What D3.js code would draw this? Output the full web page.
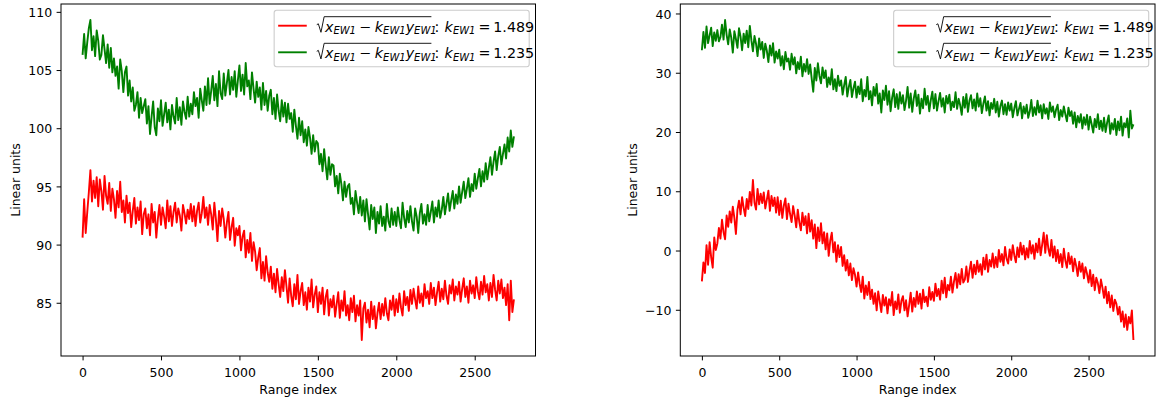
<!DOCTYPE html>
<html>
<head>
<meta charset="utf-8">
<script src="https://cdn.jsdelivr.net/npm/d3@7"></script>
<style>
  body { margin: 0; background: #fff; }
  svg text { font-family: "DejaVu Sans", sans-serif; fill: #000; }
</style>
</head>
<body>
<svg id="fig" width="1156" height="403"></svg>
<script>
// datos (una muestra cada STEP indices)
STEP = 10
ticksX = [0, 500, 1000, 1500, 2000, 2500]
ticksYleft = [85, 90, 95, 100, 105, 110]
ticksYright = [-10, 0, 10, 20, 30, 40]
kRed = '1.489'
kGreen = '1.235'

red1 = [
  90.6, 93.9, 91.0, 92.8, 94.5, 96.4, 93.7, 95.5, 94.0, 95.8,
  93.3, 95.6, 94.6, 93.0, 95.9, 94.2, 93.5, 95.3, 92.9, 94.8,
  93.9, 92.3, 94.6, 93.2, 95.4, 92.8, 93.8, 91.9, 94.2, 92.7,
  93.6, 91.5, 92.9, 94.0, 91.8, 93.2, 92.1, 93.7, 90.9, 92.6,
  93.1, 91.4, 92.6, 90.8, 93.5, 91.9, 92.8, 90.6, 92.2, 93.4,
  91.7, 93.2, 92.4, 91.4, 93.8, 92.0, 93.3, 91.6, 92.8, 93.6,
  91.9, 93.1, 92.5, 91.2, 93.4, 92.7, 91.8, 93.0, 92.2, 93.5,
  92.0, 93.3, 91.6, 92.9, 93.6, 91.9, 92.7, 94.1, 92.3, 93.2,
  91.7, 93.4, 92.6, 91.3, 93.6, 92.2, 90.3, 92.9, 91.6, 93.1,
  92.2, 90.6, 91.9, 92.8, 90.4, 91.5, 92.3, 89.9, 91.4, 90.8,
  91.6, 89.5, 90.7, 91.2, 88.9, 90.4, 89.3, 91.0, 88.6, 90.2,
  89.4, 87.8, 88.9, 89.7, 87.1, 88.5, 86.9, 89.0, 87.6, 86.8,
  88.1, 86.2, 87.5, 85.9, 87.9, 86.6, 85.5, 87.2, 86.0, 87.8,
  86.4, 85.0, 87.1, 85.6, 84.7, 86.6, 85.3, 87.4, 84.9, 86.0,
  86.7, 84.8, 85.9, 84.4, 86.3, 85.1, 87.0, 84.6, 85.7, 86.4,
  84.2, 85.9, 84.9, 86.3, 84.0, 85.5, 86.1, 83.9, 85.3, 84.6,
  85.6, 83.8, 84.9, 85.9, 83.7, 85.2, 84.3, 86.0, 83.9, 84.8,
  83.5, 85.4, 84.2, 85.6, 83.4, 84.8, 83.9, 85.2, 81.8, 84.5,
  85.0, 83.3, 84.4, 82.9, 85.1, 83.6, 84.7, 82.8, 84.1, 85.0,
  83.6, 84.9, 83.9, 85.4, 84.1, 83.5, 85.2, 84.4, 85.6, 83.9,
  85.3, 84.2, 85.8, 84.6, 83.9, 86.0, 84.8, 85.5, 84.3, 86.1,
  84.9, 86.2, 85.3, 84.5, 86.4, 85.0, 85.8, 84.7, 86.6, 85.4,
  86.0, 84.9, 86.7, 85.4, 86.3, 84.8, 85.9, 86.8, 85.1, 86.2,
  85.3, 86.9, 85.6, 84.9, 86.5, 85.8, 87.0, 85.2, 86.4, 85.7,
  86.8, 85.1, 86.2, 87.1, 85.5, 86.4, 85.0, 86.9, 85.8, 86.5,
  85.4, 87.2, 86.0, 85.3, 86.8, 85.7, 87.3, 85.9, 86.6, 85.2,
  86.7, 85.5, 87.4, 86.1, 85.2, 86.9, 85.8, 87.0, 85.4, 86.3,
  84.8, 86.6, 83.5, 86.9, 84.2, 85.3
]

green1 = [
  106.3, 108.1, 106.0, 107.4, 108.6, 109.3, 106.7, 107.9, 106.2, 108.4,
  107.5, 105.9, 106.3, 108.0, 106.8, 105.6, 107.2, 105.2, 106.9, 104.8,
  106.0, 104.5, 105.3, 103.4, 105.9, 104.9, 103.1, 104.8, 105.3, 102.8,
  104.1, 102.3, 103.5, 101.5, 102.0, 103.1, 100.9, 102.6, 101.3, 101.9,
  102.5, 100.4, 101.9, 99.5, 101.0, 102.3, 100.1, 99.4, 101.7, 100.6,
  102.4, 100.2, 101.2, 102.2, 100.5, 101.6, 99.9, 102.0, 101.0, 100.4,
  102.6, 100.7, 101.8, 100.3, 102.3, 101.4, 100.8, 102.7, 101.0, 102.1,
  101.2, 103.1, 101.9, 102.6, 100.9, 103.4, 102.4, 101.5, 103.6, 102.0,
  104.3, 102.1, 103.2, 104.5, 102.4, 103.8, 101.9, 104.9, 103.0, 102.5,
  104.7, 102.8, 103.9, 105.0, 102.9, 104.4, 103.3, 104.9, 102.7, 104.1,
  105.4, 103.2, 104.6, 102.9, 105.6, 103.6, 104.1, 102.5, 104.8, 103.4,
  102.2, 104.0, 102.7, 103.5, 101.6, 103.9, 102.0, 103.2, 101.5, 102.8,
  103.3, 101.2, 102.6, 100.8, 102.9, 101.5, 100.6, 102.4, 101.0, 102.2,
  100.5, 102.1, 100.8, 101.3, 99.7, 101.6, 100.2, 99.1, 100.9, 99.4,
  100.6, 98.8, 99.9, 98.5, 100.1, 99.2, 97.8, 99.4, 98.0, 98.9,
  98.7, 96.9, 97.8, 96.3, 98.2, 96.8, 95.6, 97.5, 96.0, 96.9,
  96.8, 95.0, 95.9, 94.4, 96.1, 95.2, 93.8, 95.4, 94.1, 95.0,
  95.2, 93.5, 94.0, 92.6, 94.6, 93.6, 92.7, 94.1, 92.5, 93.8,
  92.0, 93.9, 92.6, 91.3, 93.4, 92.2, 93.2, 91.0, 92.8, 91.8,
  93.3, 91.6, 92.4, 91.2, 93.5, 92.0, 91.5, 93.1, 91.7, 92.8,
  91.6, 93.2, 92.1, 91.4, 93.6, 92.3, 91.5, 92.9, 91.9, 93.3,
  92.0, 91.2, 93.1, 92.4, 91.0, 92.7, 93.5, 91.8, 92.6, 91.7,
  93.4, 92.0, 92.8, 93.7, 91.9, 93.2, 92.4, 93.8, 92.3, 93.0,
  94.1, 92.6, 93.5, 94.4, 92.9, 93.8, 94.6, 93.1, 94.3, 93.5,
  95.0, 93.6, 94.5, 95.4, 94.0, 94.8, 95.7, 94.1, 95.2, 94.6,
  96.1, 94.8, 95.7, 96.5, 95.0, 96.3, 95.4, 97.0, 95.6, 96.6,
  97.5, 96.0, 97.1, 98.0, 96.4, 97.6, 98.4, 96.9, 97.8, 98.6,
  97.4, 99.2, 98.0, 99.8, 98.4, 99.3
]

red2 = [
  -5.2, -2.0, -3.8, 0.9, -2.4, 1.4, -1.1, -2.9, 2.2, 0.1,
  1.2, 3.8, 2.0, 5.2, 3.1, 1.9, 5.9, 4.0, 6.6, 4.7,
  7.4, 5.5, 2.8, 6.9, 8.4, 6.1, 9.0, 7.2, 5.8, 8.7,
  7.0, 9.9, 7.6, 11.9, 8.1, 6.9, 10.4, 7.8, 9.6, 8.0,
  9.8, 7.1, 8.6, 10.1, 6.7, 9.2, 7.5, 8.9, 6.4, 9.0,
  6.0, 8.4, 5.5, 7.6, 8.8, 5.3, 7.9, 6.2, 4.8, 7.5,
  5.9, 3.9, 6.9, 4.8, 3.4, 6.4, 4.3, 5.8, 2.9, 6.2,
  3.2, 5.1, 2.0, 4.4, 0.4, 3.9, 1.6, 4.6, 1.2, 3.1,
  0.2, 2.9, -0.9, 1.7, 3.0, -0.3, 1.4, -1.9, 0.9, -1.1,
  0.6, -2.6, -0.8, -3.4, -1.6, -4.2, -2.2, -5.0, -3.0, -4.1,
  -6.1, -3.7, -5.6, -7.0, -4.4, -8.1, -5.9, -7.5, -5.3, -8.2,
  -6.6, -9.0, -7.2, -10.1, -6.9, -8.6, -10.4, -7.5, -9.3, -7.9,
  -10.6, -8.2, -9.3, -7.0, -10.9, -8.6, -9.9, -7.4, -10.5, -8.5,
  -7.7, -10.1, -8.4, -11.1, -9.2, -7.1, -10.3, -8.0, -9.5, -6.9,
  -9.0, -7.3, -9.8, -6.6, -8.7, -7.8, -9.4, -6.2, -8.3, -7.0,
  -8.5, -5.6, -7.7, -6.5, -8.3, -5.1, -7.2, -4.6, -7.9, -5.8,
  -6.7, -4.4, -7.1, -5.2, -3.8, -6.3, -4.0, -5.7, -3.1, -5.4,
  -4.9, -2.7, -5.3, -3.4, -1.9, -4.6, -2.4, -4.0, -1.7, -3.6,
  -2.3, -4.1, -1.2, -3.2, -0.7, -3.6, -1.6, -2.7, -0.5, -2.9,
  -1.1, -2.8, 0.1, -1.9, -0.6, -2.5, 0.6, -1.4, -2.2, 0.2,
  -1.6, 0.9, -0.8, -2.0, 0.5, -1.1, 1.3, -0.7, 0.8, -1.5,
  0.4, -1.2, 1.6, -0.5, 0.9, -1.4, 1.2, -0.3, 2.0, -0.8,
  1.0, 3.0, -0.4, 2.6, 0.3, -0.9, 1.8, -1.2, 0.7, -1.8,
  0.1, -2.1, -0.6, -2.8, 0.3, -1.7, -2.9, -0.4, -2.3, -1.0,
  -3.5, -1.4, -2.6, -4.3, -1.9, -3.6, -2.2, -4.7, -2.8, -3.9,
  -5.4, -3.3, -6.0, -4.1, -6.7, -4.6, -5.5, -7.2, -4.9, -6.3,
  -8.0, -6.1, -8.9, -7.0, -9.6, -7.6, -10.2, -8.3, -9.0, -10.8,
  -9.5, -12.0, -10.3, -12.9, -10.8, -13.4, -11.2, -12.3, -10.1, -15.1
]

green2 = [
  33.8, 36.9, 34.2, 37.8, 35.0, 36.3, 37.6, 34.5, 36.8, 35.4,
  37.2, 35.3, 36.0, 38.1, 35.6, 38.9, 36.4, 34.8, 37.3, 35.9,
  33.4, 37.0, 35.7, 34.2, 37.5, 36.1, 33.8, 36.6, 35.0, 37.1,
  34.3, 37.9, 35.5, 33.6, 36.2, 34.9, 32.8, 35.8, 33.9, 35.2,
  32.5, 34.9, 33.7, 31.8, 34.6, 32.9, 35.0, 31.7, 33.6, 32.4,
  33.9, 31.2, 32.8, 30.6, 33.5, 31.9, 32.4, 30.5, 33.2, 31.4,
  32.6, 29.9, 31.8, 30.6, 32.7, 29.4, 31.5, 30.2, 32.3, 29.8,
  31.4, 29.0, 26.8, 30.8, 28.7, 31.6, 29.5, 28.2, 30.9, 29.1,
  30.4, 27.6, 29.2, 28.0, 30.6, 27.2, 28.9, 26.9, 29.5, 27.8,
  28.7, 26.3, 27.9, 29.3, 26.0, 27.6, 28.8, 25.9, 27.4, 28.5,
  25.8, 27.7, 26.4, 28.9, 25.2, 27.1, 26.0, 29.3, 25.5, 26.9,
  24.5, 27.6, 26.1, 28.1, 24.8, 26.5, 23.3, 27.0, 25.4, 27.8,
  24.6, 26.9, 23.5, 25.8, 27.2, 24.2, 26.4, 23.9, 26.7, 24.8,
  26.2, 23.7, 25.3, 27.6, 24.1, 26.5, 23.4, 25.7, 27.0, 24.4,
  26.3, 23.1, 25.6, 24.0, 27.3, 24.6, 26.1, 23.5, 25.4, 26.8,
  24.0, 26.4, 23.6, 25.2, 26.6, 24.3, 25.7, 23.3, 26.1, 24.8,
  26.3, 23.7, 25.1, 24.2, 26.7, 23.9, 25.6, 24.5, 22.9, 25.9,
  24.1, 26.4, 23.4, 25.3, 26.2, 24.0, 25.5, 23.6, 26.5, 24.3,
  25.7, 23.2, 24.8, 26.0, 23.6, 25.2, 22.8, 24.9, 23.9, 25.6,
  23.3, 25.1, 22.6, 24.4, 25.3, 23.0, 24.7, 22.9, 25.0, 23.6,
  24.8, 22.5, 24.0, 25.2, 22.8, 23.9, 24.9, 22.3, 24.3, 23.1,
  24.6, 22.4, 23.5, 25.4, 22.7, 24.2, 22.9, 25.3, 23.3, 24.5,
  22.3, 24.7, 23.1, 24.0, 22.2, 25.0, 23.4, 24.3, 22.5, 23.8,
  24.6, 22.0, 23.7, 22.6, 24.3, 23.0, 21.8, 24.1, 22.7, 23.5,
  21.4, 23.3, 20.8, 22.7, 21.6, 23.0, 20.6, 22.5, 21.2, 22.9,
  20.4, 22.6, 21.3, 19.9, 22.2, 20.8, 23.0, 20.5, 21.9, 20.2,
  22.4, 20.0, 21.6, 22.8, 19.7, 21.5, 20.4, 22.2, 19.5, 21.8,
  20.3, 22.6, 19.4, 21.5, 20.8, 22.3, 19.1, 23.6, 20.6, 21.3
]

FS = 12.5      // tamaño de letra de ejes
FSLEG = 14.3   // tamaño de letra de la leyenda
RED = '#ff0000'
GREEN = '#008000'

svg = d3.select('#fig')

// dibuja un panel (ejes + dos lineas + leyenda)
function panel(box, red, green, yTicks, ylabX) {
  g = svg.append('g')
  w = box.x1 - box.x0
  h = box.y1 - box.y0

  n = Math.max(red.length, green.length)
  xMax = (n - 1) * STEP
  x = d3.scaleLinear().domain([-0.05 * xMax, 1.05 * xMax]).range([box.x0, box.x1])

  ext = d3.extent(red.concat(green))
  pad = (ext[1] - ext[0]) * 0.05
  y = d3.scaleLinear().domain([ext[0] - pad, ext[1] + pad]).range([box.y1, box.y0])

  linea = d3.line()
    .x((d, i) => x(i * STEP))
    .y(d => y(d))

  clip = 'clip' + Math.round(box.x0)
  svg.append('clipPath').attr('id', clip)
    .append('rect').attr('x', box.x0).attr('y', box.y0).attr('width', w).attr('height', h)

  g.append('path').datum(red)
    .attr('d', linea)
    .attr('fill', 'none').attr('stroke', RED).attr('stroke-width', 1.9)
    .attr('stroke-linejoin', 'round')
    .attr('clip-path', `url(#${clip})`)

  g.append('path').datum(green)
    .attr('d', linea)
    .attr('fill', 'none').attr('stroke', GREEN).attr('stroke-width', 1.9)
    .attr('stroke-linejoin', 'round')
    .attr('clip-path', `url(#${clip})`)

  // ejes
  xAxis = g.append('g')
    .attr('transform', `translate(0, ${box.y1})`)
    .call(d3.axisBottom(x).tickValues(ticksX).tickFormat(d3.format('d')).tickSize(4.4).tickPadding(4.4))
  xAxis.select('.domain').remove()
  xAxis.selectAll('text').attr('dy', '0.94em').style('font-size', FS + 'px').attr('fill', '#000')
  xAxis.selectAll('line').attr('stroke', '#000')

  yAxis = g.append('g')
    .attr('transform', `translate(${box.x0}, 0)`)
    .call(d3.axisLeft(y).tickValues(yTicks).tickSize(4.4).tickPadding(4.4))
  yAxis.select('.domain').remove()
  yAxis.selectAll('text').attr('dy', '0.37em').style('font-size', FS + 'px').attr('fill', '#000')
  yAxis.selectAll('line').attr('stroke', '#000')

  // marco
  g.append('rect')
    .attr('x', box.x0).attr('y', box.y0)
    .attr('width', w).attr('height', h)
    .attr('fill', 'none').attr('stroke', '#000').attr('stroke-width', 1)

  // titulos de ejes
  g.append('text')
    .attr('x', (box.x0 + box.x1) / 2).attr('y', 394)
    .attr('text-anchor', 'middle')
    .style('font-size', FS + 'px')
    .text('Range index')

  g.append('text')
    .attr('transform', `translate(${ylabX}, ${(box.y0 + box.y1) / 2}) rotate(-90)`)
    .attr('text-anchor', 'middle')
    .style('font-size', FS + 'px')
    .text('Linear units')

  leyenda(g, box.x1 - 6.3, box.y0 + 6.3)
}

// agrega trozos de texto matematico (cursiva / subindice)
function trozos(t, partes) {
  shift = 0
  partes.forEach(p => {
    want = p.sub ? 2.3 : 0
    s = t.append('tspan')
      .attr('dy', want - shift)
      .style('font-size', (p.sub ? FSLEG * 0.7 : FSLEG) + 'px')
      .style('font-style', p.it ? 'italic' : 'normal')
      .text(p.t)
    if (p.dx) s.attr('dx', p.dx)
    shift = want
  })
}

function leyenda(g, right, top) {
  lg = g.append('g')
  marco = lg.append('rect')
    .attr('x', 0).attr('y', 0).attr('rx', 2.5)
    .attr('fill', 'rgba(255,255,255,0.8)')
    .attr('stroke', '#cccccc').attr('stroke-width', 1.1)

  filas = [{ c: RED, k: kRed }, { c: GREEN, k: kGreen }]
  maxR = 0
  filas.forEach((f, i) => {
    cy = 15.4 + i * 26.6
    base = cy + 6
    lg.append('line')
      .attr('x1', 4).attr('x2', 32.6).attr('y1', cy).attr('y2', cy)
      .attr('stroke', f.c).attr('stroke-width', 1.9)

    rx = 42.6
    rad = lg.append('text').attr('x', rx + 8.2).attr('y', base)
    trozos(rad, [
      { t: 'x', it: true }, { t: 'EW1', it: true, sub: true },
      { t: '\u2212', dx: 3.4 },
      { t: 'k', it: true, dx: 3.4 }, { t: 'EW1', it: true, sub: true },
      { t: 'y', it: true }, { t: 'EW1', it: true, sub: true }
    ])
    wr = rad.node().getComputedTextLength()
    xe = rx + 8.2 + wr + 1.5
    lg.append('path')
      .attr('d', `M${rx},${base - 7} L${rx + 1.6},${base - 7.9} L${rx + 4.2},${base + 0.6} L${rx + 7.4},${base - 15} H${xe}`)
      .attr('fill', 'none').attr('stroke', '#000').attr('stroke-width', 0.9)

    resto = lg.append('text').attr('x', xe + 3.2).attr('y', base)
    trozos(resto, [
      { t: ':' },
      { t: 'k', it: true, dx: 5.2 }, { t: 'EW1', it: true, sub: true },
      { t: '=', dx: 3 },
      { t: f.k, dx: 2.8 }
    ])
    maxR = Math.max(maxR, xe + 3.2 + resto.node().getComputedTextLength())
  })
  bw = maxR + 6
  marco.attr('width', bw).attr('height', 56.4)
  lg.attr('transform', `translate(${right - bw}, ${top})`)
}

panel({ x0: 61, x1: 535.5, y0: 4, y1: 356 }, red1, green1, ticksYleft, 20)
panel({ x0: 680.3, x1: 1155, y0: 4, y1: 356 }, red2, green2, ticksYright, 637)
</script>
</body>
</html>
